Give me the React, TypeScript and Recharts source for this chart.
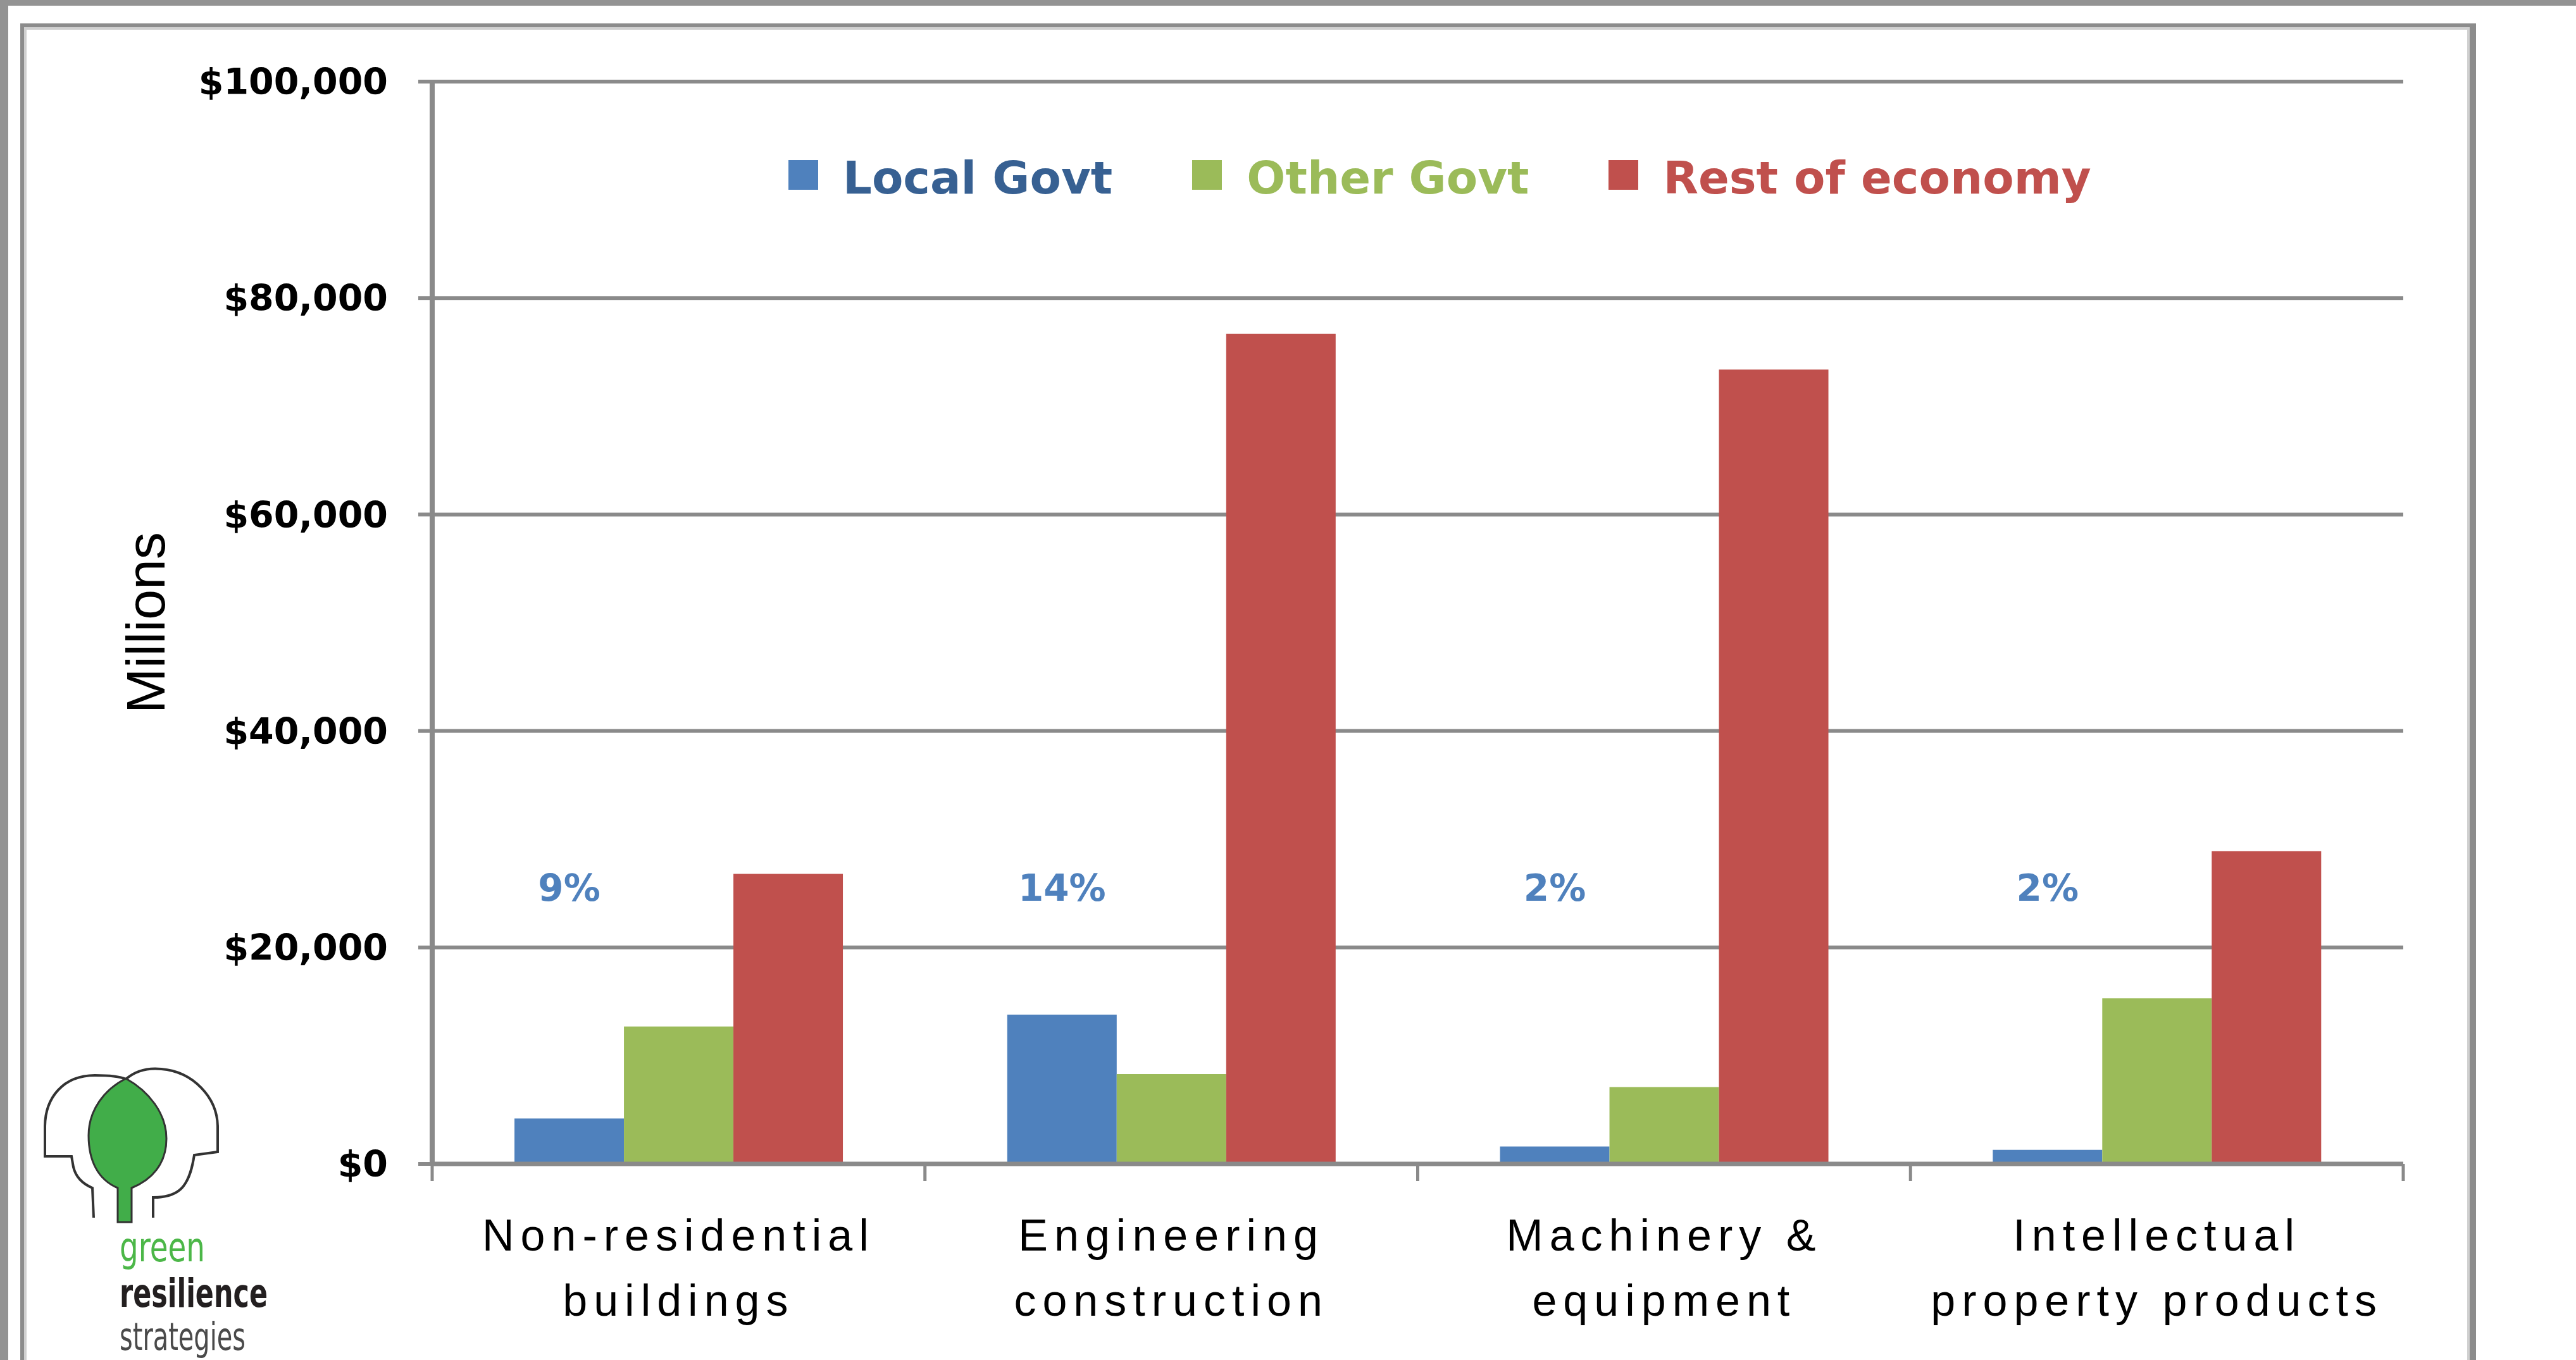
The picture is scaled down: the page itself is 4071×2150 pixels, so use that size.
import { BarChart, Bar, XAxis, YAxis, CartesianGrid, Legend, LabelList } from 'recharts';

const categories = ['Non-residential buildings', 'Engineering construction', 'Machinery & equipment', 'Intellectual property products'];
const tickLines = [['Non-residential', 'buildings'], ['Engineering', 'construction'], ['Machinery &', 'equipment'], ['Intellectual', 'property products']];
const localGovt = [4200, 13800, 1600, 1300];
const otherGovt = [12700, 8300, 7100, 15300];
const restOfEconomy = [26800, 76700, 73400, 28900];
const localShare = ['9%', '14%', '2%', '2%'];
const yTicks = [0, 20000, 40000, 60000, 80000, 100000];

const series = [
    { key: 'local', name: 'Local Govt', fill: '#4F81BD', text: '#376092' },
    { key: 'other', name: 'Other Govt', fill: '#9BBB59', text: '#9BBB59' },
    { key: 'rest', name: 'Rest of economy', fill: '#C0504D', text: '#C0504D' },
];

const data = categories.map((c, i) => ({
    category: c,
    local: localGovt[i],
    other: otherGovt[i],
    rest: restOfEconomy[i],
    share: localShare[i],
}));

const W = 4071;
const H = 2150;
const margin = { top: 129, right: 273, bottom: 110, left: 263 };
const Y_AXIS_W = 420;
const X_AXIS_H = 200;
const PLOT_W = W - margin.left - margin.right - Y_AXIS_W;
const PLOT_H = H - margin.top - margin.bottom - X_AXIS_H;
const Y_MAX = 100000;
const SHARE_LEVEL = 24300; // height at which the % labels sit
const AXIS_GREY = '#8a8a8a';

const formatDollar = (v: number) => `$${v.toLocaleString('en-US')}`;

function XTick(props: any) {
    const { x, y, index, payload } = props;
    const lines = tickLines[index] ?? [payload.value];
    const bw = PLOT_W / categories.length;
    const style = { fontFamily: '"Liberation Sans", Arial, sans-serif', fontSize: 70, letterSpacing: 10, fill: '#000' };
    return (
        <g>
            <line x1={x - bw / 2} x2={x - bw / 2} y1={y} y2={y + 27} stroke={AXIS_GREY} strokeWidth={5} />
            {index === categories.length - 1 && (
                <line x1={x + bw / 2} x2={x + bw / 2} y1={y} y2={y + 27} stroke={AXIS_GREY} strokeWidth={5} />
            )}
            <text x={x} y={y} textAnchor="middle" style={style}>
                <tspan x={x} dy={137}>{lines[0]}</tspan>
                <tspan x={x} dy={103}>{lines[1]}</tspan>
            </text>
        </g>
    );
}

function ShareLabel(props: any) {
    const vb = props.viewBox ?? props;
    const base = vb.y + vb.height;
    return (
        <text
            x={vb.x + vb.width / 2}
            y={base - (SHARE_LEVEL / Y_MAX) * PLOT_H}
            textAnchor="middle"
            style={{ fontFamily: '"DejaVu Sans", Verdana, sans-serif', fontWeight: 'bold', fontSize: 58, fill: '#4F81BD' }}
        >
            {props.value}
        </text>
    );
}

function YLabel(props: any) {
    const vb = props.viewBox;
    const cx = vb.x - 3;
    const cy = vb.y + vb.height / 2;
    return (
        <text
            x={cx}
            y={cy}
            textAnchor="middle"
            transform={`rotate(-90 ${cx} ${cy})`}
            style={{ fontFamily: '"Liberation Sans", Arial, sans-serif', fontSize: 86, fill: '#000' }}
        >
            Millions
        </text>
    );
}

function renderLegend(props: any) {
    const payload = props.payload ?? [];
    return (
        <div style={{ display: 'flex', whiteSpace: 'nowrap', fontFamily: '"DejaVu Sans", Verdana, sans-serif', fontWeight: 'bold', fontSize: 72, lineHeight: '72px' }}>
            {payload.map((p: any, i: number) => {
                const s = series.find((d) => d.name === p.value) ?? series[i];
                return (
                    <div key={s.key} style={{ display: 'flex', alignItems: 'flex-start', marginRight: 126 }}>
                        <span style={{ width: 47, height: 47, background: s.fill, marginTop: 8, marginRight: 39 }} />
                        <span style={{ color: s.text }}>{s.name}</span>
                    </div>
                );
            })}
        </div>
    );
}

function Logo() {
    const font = '"Liberation Sans Narrow", "DejaVu Sans Condensed", "Liberation Sans", sans-serif';
    return (
        <svg width={W} height={H} style={{ position: 'absolute', left: 0, top: 0, pointerEvents: 'none' }}>
            <path
                d="M148,1925 L146,1878 C132,1872 120,1862 116,1845 L113,1828 L71,1828 L71,1782 C71,1735 100,1700 150,1700 C175,1700 190,1702 199,1706"
                fill="none" stroke="#333" strokeWidth={4}
            />
            <path
                d="M199,1706 C215,1692 235,1688 255,1690 C305,1694 344,1735 344,1782 L344,1821 L307,1826 C304,1845 300,1862 290,1875 C280,1888 262,1893 242,1893 L242,1925"
                fill="none" stroke="#333" strokeWidth={4}
            />
            <path
                d="M199,1705 C235,1725 263,1760 263,1800 C263,1840 240,1865 208,1878 L208,1932 L186,1932 L186,1878 C155,1865 140,1835 140,1795 C140,1755 165,1722 199,1705 Z"
                fill="#41ad49" stroke="#333" strokeWidth={3}
            />
            <text x={189} y={1994} textLength={135} lengthAdjust="spacingAndGlyphs" style={{ fontFamily: font, fontSize: 64, fill: '#4cb748' }}>green</text>
            <text x={189} y={2066} textLength={234} lengthAdjust="spacingAndGlyphs" style={{ fontFamily: font, fontSize: 62, fontWeight: 'bold', fill: '#231f20' }}>resilience</text>
            <text x={189} y={2134} textLength={199} lengthAdjust="spacingAndGlyphs" style={{ fontFamily: font, fontSize: 60, fill: '#4a4a4a' }}>strategies</text>
        </svg>
    );
}

export default function App() {
    return (
        <div style={{ position: 'absolute', left: 0, top: 0, width: W, height: H, background: '#fff', overflow: 'hidden' }}>
            {/* window edges and chart frame */}
            <div style={{ position: 'absolute', left: 0, top: 0, width: W, height: 9, background: '#939393' }} />
            <div style={{ position: 'absolute', left: 0, top: 0, width: 13, height: H, background: '#939393' }} />
            <div
                style={{
                    position: 'absolute', left: 32, top: 37, width: 3881, height: H,
                    boxSizing: 'border-box',
                    borderTop: '6px solid #8c8c8c', borderLeft: '6px solid #8c8c8c', borderRight: '10px solid #8c8c8c',
                    boxShadow: 'inset 4px 4px 0 #d0d0d0, inset -4px 0 0 #d0d0d0',
                }}
            />
            <BarChart width={W} height={H} data={data} margin={margin} barCategoryGap="16.7%" barGap={0}>
                <CartesianGrid horizontal vertical={false} stroke={AXIS_GREY} strokeWidth={6} />
                <XAxis
                    dataKey="category"
                    height={X_AXIS_H}
                    interval={0}
                    tickSize={0}
                    tickMargin={0}
                    tickLine={false}
                    axisLine={{ stroke: AXIS_GREY, strokeWidth: 7 }}
                    tick={<XTick />}
                />
                <YAxis
                    width={Y_AXIS_W}
                    domain={[0, Y_MAX]}
                    ticks={yTicks}
                    interval={0}
                    tickFormatter={formatDollar}
                    tickSize={22}
                    tickMargin={48}
                    axisLine={{ stroke: AXIS_GREY, strokeWidth: 8 }}
                    tickLine={{ stroke: AXIS_GREY, strokeWidth: 6 }}
                    tick={{ fontSize: 57, fontFamily: '"DejaVu Sans", Verdana, sans-serif', fontWeight: 'bold', fill: '#000' }}
                    label={YLabel}
                />
                <Legend
                    layout="vertical"
                    align="center"
                    verticalAlign="middle"
                    content={renderLegend}
                    wrapperStyle={{ top: 245, left: 1246, width: 2400 }}
                />
                {series.map((s) => (
                    <Bar key={s.key} dataKey={s.key} name={s.name} fill={s.fill} isAnimationActive={false}>
                        {s.key === 'local' && <LabelList dataKey="share" content={ShareLabel} />}
                    </Bar>
                ))}
            </BarChart>
            <Logo />
        </div>
    );
}
